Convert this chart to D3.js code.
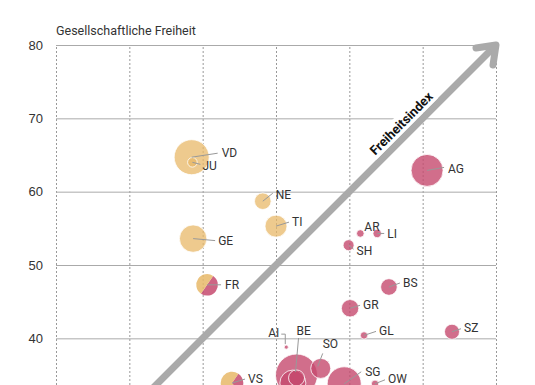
<!DOCTYPE html>
<html>
<head>
<meta charset="utf-8">
<script src="https://cdn.jsdelivr.net/npm/d3@7"></script>
<style>
  body { margin: 0; background: #fff; }
  svg { display: block; font-family: Roboto, "Noto Sans", sans-serif; }
</style>
</head>
<body>
<svg id="chart" width="535" height="385"></svg>
<script>
// Kantone: wirtschaftliche (x) vs. gesellschaftliche (y) Freiheit
const cantons   = ["VD", "JU", "NE", "TI", "GE", "FR", "VS", "AG", "AR", "LI", "SH", "BS", "GR", "GL", "SZ", "AI", "BE", "SO", "SG", "OW", "LU", "ZG"];
const econ      = [38.5, 38.6, 48.2, 50.0, 38.7, 40.6, 44.0, 70.6, 61.5, 63.8, 59.9, 65.4, 60.1, 62.0, 74.0, 51.4, 52.8, 56.1, 59.3, 63.5, 52.3, 52.8];
const social    = [64.7, 64.0, 58.7, 55.3, 53.6, 47.3, 33.9, 62.9, 54.3, 54.3, 52.7, 47.0, 44.1, 40.4, 40.9, 38.8, 35.0, 35.9, 33.8, 33.8, 33.9, 34.6];
const size      = [814, 61, 183, 321, 499, 310, 340, 680, 38, 47, 80, 183, 201, 36, 150, 11, 1170, 266, 768, 36, 449, 170];
const redShare  = [0, 0, 0, 0, 0, 0.5, 0.3, 1, 1, 1, 1, 1, 1, 1, 1, 1, 1, 1, 1, 1, 1, 1];
const xTicks    = [20, 30, 40, 50, 60, 70, 80];
const yTicks    = [40, 50, 60, 70, 80];
const yTitle    = "Gesellschaftliche Freiheit";
const arrowText = "Freiheitsindex";

// label placement relative to bubble centre: text offset + leader polyline
const labelPos = {
  VD: { t: [30, -4], l: [[0, 0], [26, -4]] },
  JU: { t: [10, 3],  l: [[0, 0], [8, 2]] },
  NE: { t: [13, -6], l: [[0, 0], [10, -8]] },
  TI: { t: [16, -4], l: [[0, 0], [13, -4]] },
  GE: { t: [25, 2],  l: [[0, 0], [22, 2]] },
  FR: { t: [18, 0],  l: [[0, 0], [14, 0]] },
  VS: { t: [16, -4], l: [[0, 0], [13, -4]] },
  AG: { t: [21, -2], l: [[0, 0], [17, -3]] },
  AR: { t: [4, -7],  l: null },
  LI: { t: [10, 0],  l: [[0, 0], [7, 0]] },
  SH: { t: [8, 6],   l: [[0, 0], [5, 4]] },
  BS: { t: [14, -4], l: [[0, 0], [11, -4]] },
  GR: { t: [13, -3], l: [[0, 0], [10, -3]] },
  GL: { t: [15, -5], l: [[0, 0], [12, -4]] },
  SZ: { t: [12, -4], l: [[0, 0], [9, -3]] },
  AI: { t: [-7, -14], anchor: "end", l: [[-1, -3], [-1, -13], [-5, -13]] },
  BE: { t: [0, -44], l: [[-1, -3], [2, -37]] },
  SO: { t: [2, -25], l: [[-3, -2], [2, -15]] },
  SG: { t: [21, -12], l: [[0, 0], [17, -12]] },
  OW: { t: [13, -5], l: [[0, 0], [10, -4]] }
};

const ORANGE = "#e8b868";
const RED = "#c64a6e";

const data = cantons.map((c, i) => ({
  name: c, x: econ[i], y: social[i], size: size[i], red: redShare[i]
}));

const svg = d3.select("#chart");
const x = d3.scaleLinear().domain([20, 80]).range([56, 496]);
const y = d3.scaleLinear().domain([20, 80]).range([485, 45]);
const r = d3.scaleSqrt().domain([0, 1000]).range([0, 19.4]);

// vertical dashed grid
svg.append("g")
  .attr("transform", `translate(0,${y(20)})`)
  .call(d3.axisBottom(x).tickValues(xTicks).tickSize(-(y(20) - y(80))).tickFormat(""))
  .call(g => g.select(".domain").remove())
  .call(g => g.selectAll("line").attr("stroke", "#999").attr("stroke-dasharray", "2,2"));

// horizontal grid + labels
svg.append("g")
  .attr("transform", `translate(${x(20)},0)`)
  .call(d3.axisLeft(y).tickValues(yTicks).tickSize(-(x(80) - x(20))).tickPadding(13))
  .call(g => g.select(".domain").remove())
  .call(g => g.selectAll("line").attr("stroke", "#aaa"))
  .call(g => g.selectAll("text").attr("fill", "#333").attr("font-size", 13));

svg.append("text")
  .attr("x", x(20)).attr("y", 35)
  .attr("fill", "#333").attr("font-size", 12.5)
  .text(yTitle);

// diagonal arrow
const tip = [x(80), y(80)];
const arrowG = svg.append("g");
arrowG.append("line")
  .attr("x1", x(20)).attr("y1", y(20))
  .attr("x2", tip[0] - 2).attr("y2", tip[1] + 2)
  .attr("stroke", "#aaa").attr("stroke-width", 7);
arrowG.append("path")
  .attr("d", `M${tip[0] - 20},${tip[1] + 3}L${tip[0]},${tip[1]}L${tip[0] - 3},${tip[1] + 20}`)
  .attr("fill", "none").attr("stroke", "#aaa").attr("stroke-width", 7)
  .attr("stroke-linecap", "round").attr("stroke-linejoin", "round");

const lbl = svg.append("g")
  .attr("transform", `translate(${x(68.2)},${y(68.2)}) rotate(-45) translate(0,-11.5)`);
const bg = lbl.append("rect").attr("fill", "#fff");
const lt = lbl.append("text")
  .attr("text-anchor", "middle").attr("dy", "0.35em")
  .attr("font-size", 13).attr("font-weight", "bold").attr("fill", "#111")
  .text(arrowText);
const bb = lt.node().getBBox();
bg.attr("x", bb.x - 2).attr("y", -9).attr("width", bb.width + 4).attr("height", 17);
lt.raise();

// bubbles
const pie = d3.pie().sort(null).startAngle(0.6).endAngle(0.6 + 2 * Math.PI);
const bubbles = svg.append("g")
  .selectAll("g")
  .data(data.slice().sort((a, b) => b.size - a.size))
  .join("g")
  .attr("transform", d => `translate(${x(d.x)},${y(d.y)})`);

bubbles.each(function(d) {
  const g = d3.select(this);
  if (d.red > 0 && d.red < 1) {
    const arc = d3.arc().innerRadius(0).outerRadius(r(d.size));
    g.selectAll("path")
      .data(pie([d.red, 1 - d.red]))
      .join("path")
      .attr("d", arc)
      .attr("fill", (p, i) => i === 0 ? RED : ORANGE)
      .attr("fill-opacity", 0.85);
  } else {
    g.append("circle")
      .attr("r", r(d.size))
      .attr("fill", d.red ? RED : ORANGE)
      .attr("fill-opacity", d.red ? 0.8 : 0.75)
      .attr("stroke", "#fff").attr("stroke-width", 0.8);
  }
});

// leaders and labels
const labelled = data.filter(d => labelPos[d.name]);
const line = d3.line();
svg.append("g")
  .selectAll("path")
  .data(labelled.filter(d => labelPos[d.name].l))
  .join("path")
  .attr("d", d => line(labelPos[d.name].l.map(p => [x(d.x) + p[0], y(d.y) + p[1]])))
  .attr("fill", "none").attr("stroke", "#999").attr("stroke-width", 1);

svg.append("g")
  .selectAll("text")
  .data(labelled)
  .join("text")
  .attr("x", d => x(d.x) + labelPos[d.name].t[0])
  .attr("y", d => y(d.y) + labelPos[d.name].t[1])
  .attr("dy", "0.35em")
  .attr("text-anchor", d => labelPos[d.name].anchor || "start")
  .attr("font-size", 12).attr("fill", "#333")
  .text(d => d.name);
</script>
</body>
</html>
